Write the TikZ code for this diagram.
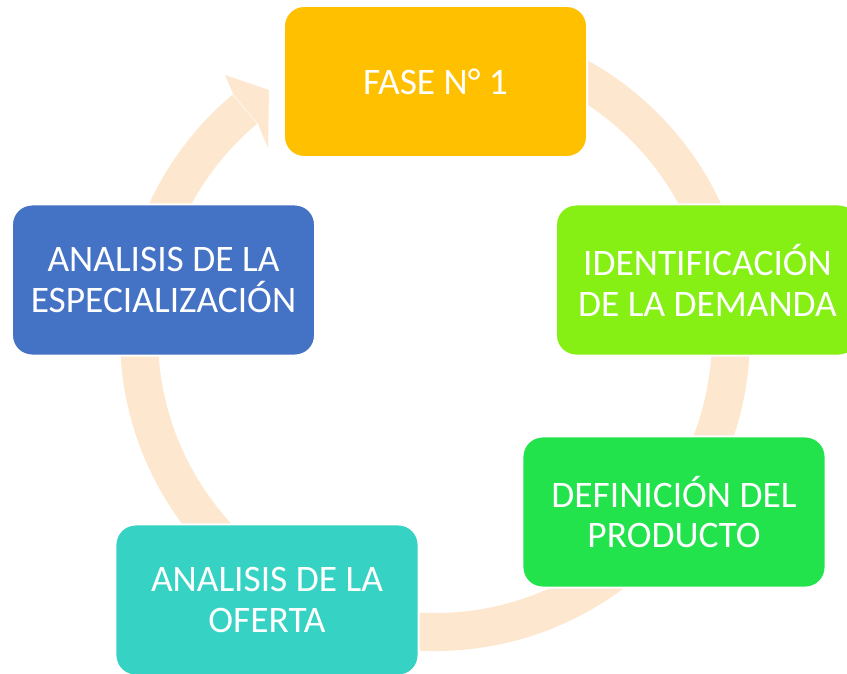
\documentclass[tikz,border=0pt]{standalone}
\usepackage{fontspec}
\setmainfont{Carlito}
\usepackage{xcolor}
\definecolor{ringpeach}{RGB}{253,231,206}
\definecolor{faseorange}{RGB}{255,192,0}
\definecolor{demandagreen}{RGB}{134,239,20}
\definecolor{productogreen}{RGB}{34,227,75}
\definecolor{ofertateal}{RGB}{54,211,197}
\definecolor{especblue}{RGB}{68,114,196}

\begin{document}
\begin{tikzpicture}[x=0.025cm,y=-0.025cm]
    \tikzstyle{every node}=[minimum height=3.775cm,minimum width=7.575cm];
    \tikzstyle{phase}=[rounded corners=0.5cm,draw=white,line width=0.05cm,text=white,align=center,font=\fontsize{26.6}{29}\selectfont];

    \clip (0,0) rectangle (847,673);

    % cycle ring, head ends left of the first phase
    \coordinate (hub) at (435,336);
    \draw[ringpeach,line width=0.95cm] (hub) ++(-90:296) arc[start angle=-90, end angle=230, radius=296];
    \fill[ringpeach] (233.5,94.7) -- (225,75) -- (269,90) -- (268,148) -- (258,123.8) -- cycle;

    \node[phase,fill=faseorange] (fase) at (435.5,81.5) {FASE N° 1};
    \node[phase,fill=demandagreen] (demanda) at (707.5,280) {IDENTIFICACIÓN\\DE LA DEMANDA};
    \node[phase,fill=productogreen] (producto) at (674,512) {DEFINICIÓN DEL\\PRODUCTO};
    \node[phase,fill=ofertateal] (oferta) at (267,600) {ANALISIS DE LA\\OFERTA};
    \node[phase,fill=especblue] (especial) at (163.5,280) {ANALISIS DE LA\\ESPECIALIZACIÓN};
\end{tikzpicture}
\end{document}
